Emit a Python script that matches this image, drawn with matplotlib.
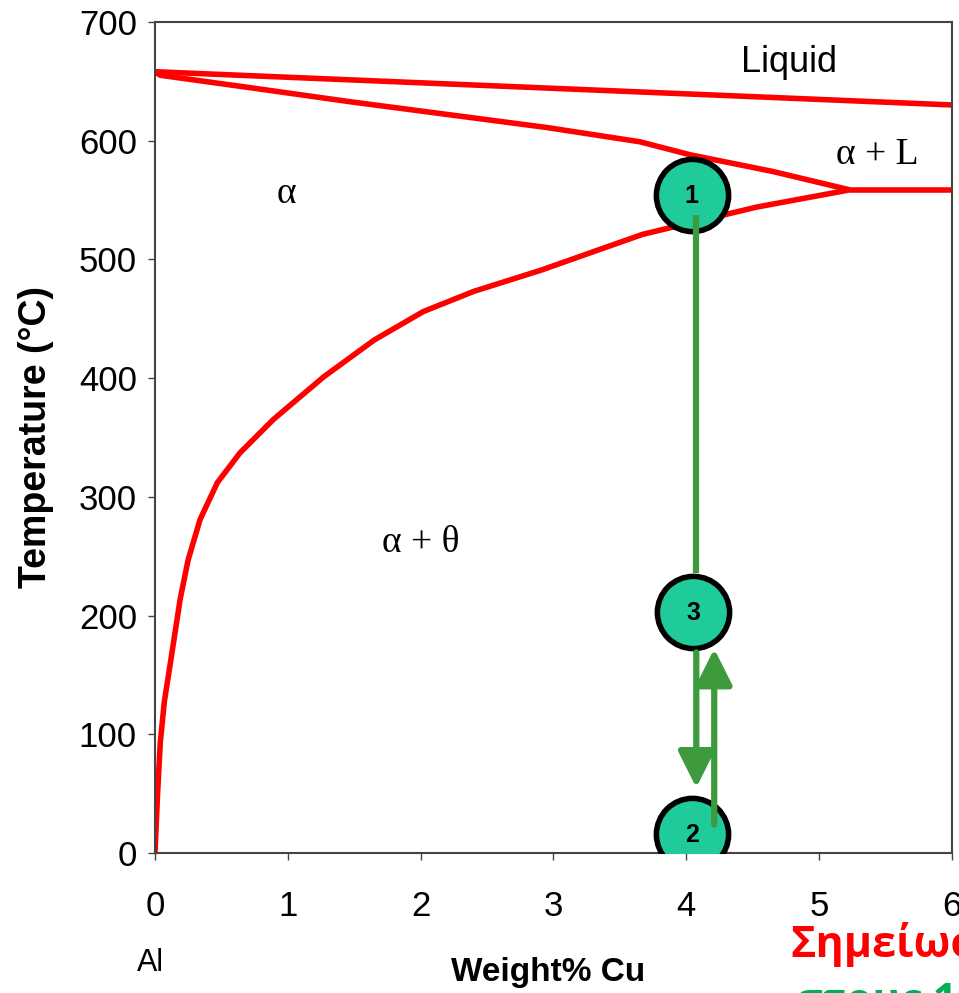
import matplotlib.pyplot as plt

# phase boundaries (wt% Cu, temperature C)
liq_x = [0.0, 6.0]
liq_t = [658, 630]

sol_x = [0.0, 0.04, 0.72, 1.47, 2.22, 2.95, 3.65, 4.03, 4.65, 5.23]
sol_t = [658, 655, 644.5, 632.7, 621.7, 611, 599, 588, 574, 558.5]

eut_x = [5.23, 6.0]
eut_t = [558.5, 558.5]

solv_x = [0.0, 0.02, 0.04, 0.07, 0.12, 0.19, 0.25, 0.34, 0.47, 0.64, 0.89,
          1.27, 1.65, 2.02, 2.40, 2.91, 3.67, 4.53, 5.23]
solv_t = [0, 51, 93, 127, 163, 214, 247, 281, 312, 337, 365,
          401, 432, 456, 473, 491, 521, 544, 558.5]

# heat treatment steps
step_labels = ['1', '2', '3']
step_x = [4.04, 4.04, 4.05]
step_t = [554, 16, 203]

RED = '#ff0000'
GREEN = '#3d9b3d'
TEAL = '#1fcb9b'

fig = plt.figure(figsize=(9.59, 9.93), dpi=100)
ax = fig.add_axes([0.1616, 0.141, 0.8311, 0.837])

ax.plot(liq_x, liq_t, color=RED, lw=4, solid_capstyle='butt')
ax.plot(sol_x, sol_t, color=RED, lw=4, solid_capstyle='butt')
ax.plot(eut_x, eut_t, color=RED, lw=4, solid_capstyle='butt')
ax.plot(solv_x, solv_t, color=RED, lw=4, solid_capstyle='butt',
        solid_joinstyle='round')

# circles
for lab, x, t in zip(step_labels, step_x, step_t):
    z = 6 if lab == '3' else 3
    ax.plot(x, t, 'o', ms=52, mfc=TEAL, mec='black', mew=4, zorder=z)
    ax.text(x, t - 1, lab, ha='center', va='center', fontsize=18,
            fontweight='bold', family='Liberation Sans', zorder=8)

# quench from 1 down to 3
ax.plot([4.075, 4.075], [537, 236], color=GREEN, lw=4.5, zorder=5,
        solid_capstyle='butt')
# down arrow 3 -> 2
ax.annotate('', xy=(4.075, 55), xytext=(4.075, 169),
            arrowprops=dict(arrowstyle='-|>,head_length=1.1,head_width=0.55',
                            color=GREEN, lw=4.5, mutation_scale=20,
                            shrinkA=0, shrinkB=0), zorder=7)
# up arrow 2 -> 3
ax.annotate('', xy=(4.21, 172), xytext=(4.21, 24),
            arrowprops=dict(arrowstyle='-|>,head_length=1.1,head_width=0.55',
                            color=GREEN, lw=4.5, mutation_scale=20,
                            shrinkA=0, shrinkB=0), zorder=7)

# region labels
ax.text(4.77, 666, 'Liquid', ha='center', va='center', fontsize=26,
        family='Liberation Sans')
ax.text(5.44, 588, 'α + L', ha='center', va='center', fontsize=27,
        family='Liberation Serif')
ax.text(0.99, 555, 'α', ha='center', va='center', fontsize=27,
        family='Liberation Serif')
ax.text(2.0, 261, 'α + θ', ha='center', va='center', fontsize=27,
        family='Liberation Serif')

ax.set_xlim(0, 6)
ax.set_ylim(0, 700)
ax.set_xticks([0, 1, 2, 3, 4, 5, 6])
ax.set_yticks([0, 100, 200, 300, 400, 500, 600, 700])
ax.tick_params(axis='both', labelsize=25, direction='out', length=5,
               width=1, color='#444444')
ax.tick_params(axis='x', pad=22)
ax.tick_params(axis='y', pad=8)
for lbl in ax.get_xticklabels() + ax.get_yticklabels():
    lbl.set_family('Liberation Sans')
for s in ax.spines.values():
    s.set_color('#444444')
    s.set_linewidth(1.5)

ax.set_ylabel('Temperature (°C)', fontsize=27, fontweight='bold',
              family='Liberation Sans', labelpad=18)

fig.text(150 / 959, 1 - 963 / 993, 'Al', ha='center', va='center',
         fontsize=22, family='Liberation Sans')
fig.text(548 / 959, 1 - 972 / 993, 'Weight% Cu', ha='center', va='center',
         fontsize=24, fontweight='bold', family='Liberation Sans')

fig.text(790 / 959, 1 - 957 / 993, 'Σημείωση:', ha='left', va='baseline',
         fontsize=31, fontweight='bold', color=RED, family='Open Sans')
fig.text(795 / 959, 1 - 1014 / 993, 'στους 1', ha='left', va='baseline',
         fontsize=31, fontweight='bold', color='#00b050', family='Open Sans')

fig.savefig('out.png', dpi=100)
